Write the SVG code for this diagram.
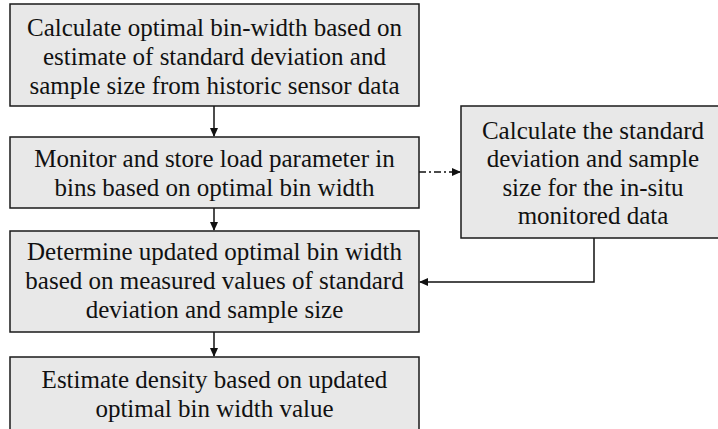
<svg xmlns="http://www.w3.org/2000/svg" width="718" height="429" viewBox="0 0 718 429">
  <style>
    .box { fill: #e8e8e8; stroke: #1a1a1a; stroke-width: 1.5; }
    .lbl { font-family: "Liberation Serif", "Times New Roman", serif; font-size: 25px; fill: #111; text-anchor: middle; }
    .wire { fill: none; stroke: #111; stroke-width: 1.5; }
    .dashdot { stroke-dasharray: 7 3 2 3; }
  </style>
  <defs>
    <marker id="head" markerWidth="9" markerHeight="8" refX="8" refY="4" orient="auto" markerUnits="userSpaceOnUse">
      <path d="M0,0 L9,4 L0,8 Z" fill="#111"/>
    </marker>
  </defs>

  <rect width="718" height="429" fill="#ffffff"/>

  <g id="connectors">
    <line class="wire" x1="214" y1="106" x2="214" y2="136" marker-end="url(#head)"/>
    <line class="wire" x1="214" y1="208" x2="214" y2="230" marker-end="url(#head)"/>
    <line class="wire" x1="214" y1="332" x2="214" y2="356" marker-end="url(#head)"/>
    <line class="wire dashdot" x1="419" y1="172" x2="460" y2="172" marker-end="url(#head)"/>
    <polyline class="wire" points="594,238 594,282 420,282" marker-end="url(#head)"/>
  </g>

  <g id="calc-initial">
    <rect class="box" x="10" y="4" width="409" height="102"/>
    <text class="lbl" x="214.5" y="36">Calculate optimal bin-width based on</text>
    <text class="lbl" x="214.5" y="65">estimate of standard deviation and</text>
    <text class="lbl" x="214.5" y="94">sample size from historic sensor data</text>
  </g>

  <g id="monitor-store">
    <rect class="box" x="10" y="137" width="409" height="71"/>
    <text class="lbl" x="214.5" y="167">Monitor and store load parameter in</text>
    <text class="lbl" x="214.5" y="196">bins based on optimal bin width</text>
  </g>

  <g id="update-width">
    <rect class="box" x="10" y="231" width="409" height="101"/>
    <text class="lbl" x="214.5" y="260">Determine updated optimal bin width</text>
    <text class="lbl" x="214.5" y="289">based on measured values of standard</text>
    <text class="lbl" x="214.5" y="318">deviation and sample size</text>
  </g>

  <g id="estimate-density">
    <rect class="box" x="10" y="357" width="409" height="80"/>
    <text class="lbl" x="214.5" y="388">Estimate density based on updated</text>
    <text class="lbl" x="214.5" y="417">optimal bin width value</text>
  </g>

  <g id="calc-insitu">
    <rect class="box" x="461" y="106" width="264" height="132"/>
    <text class="lbl" x="593" y="139">Calculate the standard</text>
    <text class="lbl" x="593" y="167">deviation and sample</text>
    <text class="lbl" x="593" y="196">size for the in-situ</text>
    <text class="lbl" x="593" y="224">monitored data</text>
  </g>
</svg>
